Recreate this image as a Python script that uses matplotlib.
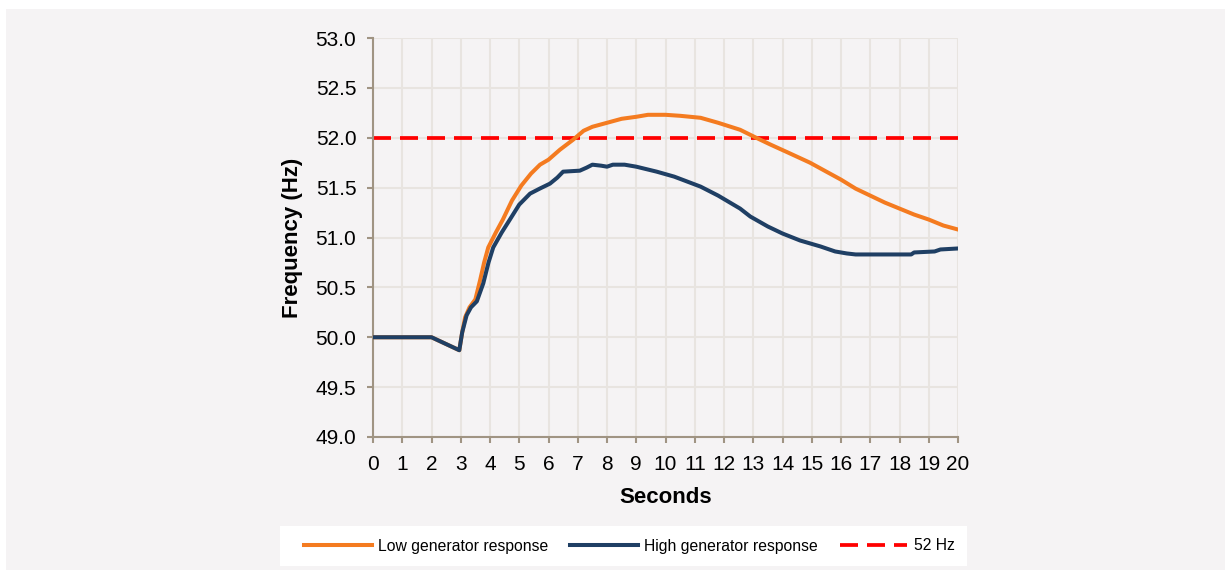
import matplotlib
matplotlib.use("Agg")
import matplotlib.pyplot as plt
from matplotlib.patches import Rectangle

# Datos
t_low = [0, 2.0, 2.95, 3.05, 3.15, 3.3, 3.5, 3.66, 3.8, 3.94, 4.2, 4.44, 4.75, 5.07,
         5.4, 5.71, 6.0, 6.39, 6.84, 7.2, 7.5, 8.0, 8.5, 9.0, 9.4, 10.0, 10.5, 11.2,
         11.8, 12.55, 13.1, 13.6, 14.2, 14.94, 15.5, 16.0, 16.5, 17.0, 17.5, 18.0,
         18.5, 19.0, 19.5, 20.0]
f_low = [50.0, 50.0, 49.87, 50.05, 50.2, 50.3, 50.38, 50.57, 50.75, 50.9, 51.05, 51.18,
         51.37, 51.52, 51.64, 51.73, 51.78, 51.88, 51.98, 52.07, 52.11, 52.15, 52.19,
         52.21, 52.23, 52.23, 52.22, 52.2, 52.15, 52.08, 52.0, 51.93, 51.85, 51.75,
         51.66, 51.58, 51.49, 51.42, 51.35, 51.29, 51.23, 51.18, 51.12, 51.08]

t_high = [0, 2.0, 2.95, 3.05, 3.2, 3.35, 3.55, 3.77, 3.95, 4.11, 4.4, 4.68, 5.0, 5.37,
          5.7, 6.05, 6.3, 6.5, 7.07, 7.3, 7.5, 7.8, 8.0, 8.2, 8.6, 9.0, 9.7, 10.3,
          10.84, 11.2, 11.8, 12.55, 12.9, 13.5, 14.0, 14.6, 15.3, 15.8, 16.2, 16.5,
          18.4, 18.5, 19.2, 19.4, 20.0]
f_high = [50.0, 50.0, 49.87, 50.05, 50.22, 50.3, 50.36, 50.54, 50.75, 50.9, 51.05,
          51.18, 51.33, 51.44, 51.49, 51.54, 51.6, 51.66, 51.67, 51.7, 51.73, 51.72,
          51.71, 51.73, 51.73, 51.71, 51.66, 51.61, 51.55, 51.51, 51.42, 51.29, 51.21,
          51.11, 51.04, 50.97, 50.91, 50.86, 50.84, 50.83, 50.83, 50.85, 50.86, 50.88,
          50.89]

t_ref = [0, 20]
f_ref = [52.0, 52.0]

x_ticks = list(range(0, 21))
y_ticks = [49.0, 49.5, 50.0, 50.5, 51.0, 51.5, 52.0, 52.5, 53.0]

plt.rcParams['font.family'] = ['Liberation Sans', 'DejaVu Sans']

W, H = 1225, 571
fig = plt.figure(figsize=(W / 100, H / 100), dpi=100, facecolor='white')
# panel gris de fondo y caja blanca de la leyenda
fig.patches.append(Rectangle((6 / W, 1 / H), 1 - 6 / W, 1 - 10 / H,
                             transform=fig.transFigure, facecolor='#F5F3F4',
                             edgecolor='none', zorder=-10))
fig.patches.append(Rectangle((280 / W, 1 - 566 / H), 687 / W, 40 / H,
                             transform=fig.transFigure, facecolor='white',
                             edgecolor='none', zorder=-9))

ax = fig.add_axes([373 / W, 1 - 437 / H, 585 / W, 399 / H])
ax.set_facecolor('none')

ax.plot(t_low, f_low, color='#F47B20', lw=2.9, label='Low generator response',
        solid_joinstyle='round', zorder=3)
ax.plot(t_high, f_high, color='#1F3F64', lw=2.9, label='High generator response',
        solid_joinstyle='round', zorder=4)
ax.plot(t_ref, f_ref, color='#FF0000', lw=2.7, linestyle=(0, (4.8, 2.4)),
        label='52 Hz', zorder=2)

ax.set_xlim(0, 20)
ax.set_ylim(49.0, 53.0)
ax.set_xticks(x_ticks)
ax.set_yticks(y_ticks)
ax.set_yticklabels([f"{v:.1f}" for v in y_ticks])

ax.grid(True, color='#E8E4E0', lw=1.5, zorder=0)
ax.set_axisbelow(True)

for s in ['top', 'right']:
    ax.spines[s].set_visible(False)
for s in ['left', 'bottom']:
    ax.spines[s].set_color('#A09483')
    ax.spines[s].set_linewidth(1.5)

ax.tick_params(axis='both', colors='#A09483', width=1.5, length=4,
               labelcolor='black', labelsize=15)
ax.tick_params(axis='y', pad=8)
ax.tick_params(axis='x', pad=9)

ax.set_xlabel('Seconds', fontsize=16, fontweight='bold')
ax.set_ylabel('Frequency (Hz)', fontsize=16, fontweight='bold')
ax.xaxis.set_label_coords(0.5, -0.125)
ax.yaxis.set_label_coords(-0.12, 0.5)

leg = fig.legend(loc='center', bbox_to_anchor=(629.5 / W, 1 - 546 / H), ncol=3,
                 fontsize=11.3, frameon=False, handlelength=4.3,
                 handletextpad=0.4, columnspacing=1.4, borderaxespad=0)

fig.savefig('out.png', dpi=100, facecolor='white')
